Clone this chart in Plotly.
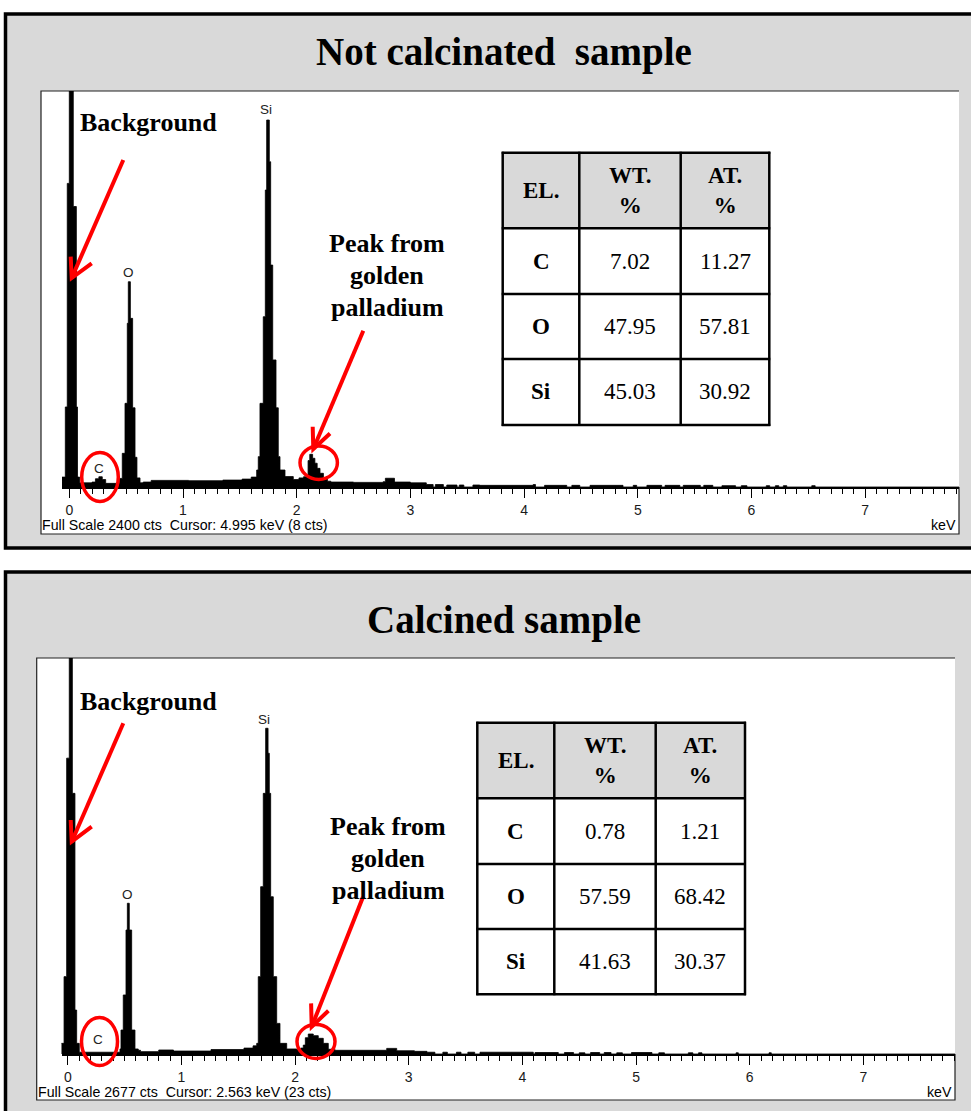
import plotly.graph_objects as go

# ---------------- data ----------------
# Spectrum 1 (not calcinated) : step breakpoints (keV) and counts
E1 = [-0.064, -0.035, -0.018, 0.000, 0.035, 0.062, 0.072, 0.090,
      0.200, 0.230, 0.260, 0.290, 0.320,
      0.440, 0.466, 0.490, 0.510, 0.519, 0.537, 0.557, 0.578, 0.595, 0.622,
      0.650, 0.720, 1.050, 1.350, 1.520, 1.600,
      1.648, 1.662, 1.677, 1.706, 1.724, 1.736, 1.759, 1.771, 1.789, 1.818, 1.838, 1.853, 1.897, 1.970,
      2.020, 2.060, 2.100, 2.115, 2.140, 2.160, 2.180, 2.205, 2.235, 2.270, 2.300,
      2.500, 2.760, 2.780, 2.860, 3.000,
      3.140, 3.200, 3.220, 3.290, 3.320, 3.410, 3.430, 3.470, 3.550, 3.610,
      4.080, 4.100, 4.180, 4.375, 4.420, 4.490, 4.580, 4.870, 4.960, 4.990,
      5.080, 5.210, 5.240, 5.370, 5.400, 5.550, 5.580, 5.660, 5.740, 5.860,
      5.910, 5.960, 6.130, 6.160, 6.210, 6.240, 6.280, 6.310, 6.530, 6.560,
      7.830]
C1 = [60, 485, 1840, 2400, 1700, 485, 60, 25,
      30, 50, 62, 45, 22,
      52, 204, 507, 992, 1244, 1022, 480, 180, 55, 25,
      30, 40, 38, 42, 48, 60,
      103, 184, 507, 1032, 1800, 2224, 1971, 1345, 770, 480, 184, 103, 63, 45,
      55, 62, 160, 198, 174, 144, 113, 83, 53, 35, 30,
      28, 32, 53, 30, 25,
      15, 0, 15, 0, 12, 0, 12, 0, 12, 10,
      15, 0, 10, 0, 10, 0, 10, 0, 10, 0,
      10, 0, 10, 0, 10, 0, 10, 0, 8, 0,
      8, 0, 8, 0, 8, 0, 8, 0, 8, 0,
      0]

# Spectrum 2 (calcined)
E2 = [-0.063, -0.033, -0.010, 0.013, 0.040, 0.063, 0.078, 0.101,
      0.459, 0.468, 0.488, 0.512, 0.524, 0.541, 0.562, 0.591, 0.620,
      0.640, 0.800, 0.930, 1.260, 1.550, 1.630,
      1.662, 1.676, 1.697, 1.720, 1.741, 1.762, 1.773, 1.785, 1.808, 1.838, 1.867, 1.926, 2.014,
      2.050, 2.072, 2.090, 2.116, 2.160, 2.204, 2.248, 2.292, 2.350,
      2.806, 2.894, 3.050,
      3.160, 3.230, 3.300, 3.340, 3.420, 3.460, 3.520, 3.580, 3.627,
      4.096, 4.111, 4.316, 4.370, 4.450, 4.500, 4.550, 4.600, 4.680, 4.720,
      4.780, 4.830, 4.880, 4.960, 5.140, 5.200, 5.250, 5.460, 5.500, 5.550,
      5.580, 5.880, 5.900, 6.170, 6.190,
      7.830]
C2 = [72, 523, 2000, 2677, 1762, 297, 72, 12,
      34, 162, 399, 838, 1019, 838, 162, 34, 25,
      16, 27, 20, 30, 40, 55,
      72, 523, 1131, 1762, 2202, 2033, 1762, 1063, 523, 207, 72, 34, 30,
      40, 60, 110, 135, 124, 106, 72, 32, 25,
      38, 22, 18,
      12, 0, 12, 0, 12, 0, 12, 0, 12,
      0, 10, 0, 10, 0, 8, 0, 10, 0, 10,
      0, 8, 0, 10, 0, 8, 0, 8, 0, 8,
      0, 8, 0, 8, 0,
      0]

FULL_SCALE = [2400, 2677]
CURSOR_TXT = ["Full Scale 2400 cts  Cursor: 4.995 keV (8 cts)",
              "Full Scale 2677 cts  Cursor: 2.563 keV (23 cts)"]
TITLES = ["Not calcinated\u00a0 sample", "Calcined sample"]
ELEMENTS = ["C", "O", "Si"]
WT = [[7.02, 47.95, 45.03], [0.78, 57.59, 41.63]]
AT = [[11.27, 57.81, 30.92], [1.21, 68.42, 30.37]]
HEADERS = ["EL.", "WT.<br>%", "AT.<br>%"]
TICK_VALS = [0, 1, 2, 3, 4, 5, 6, 7]

assert len(E1) == len(C1), (len(E1), len(C1))
assert len(E2) == len(C2), (len(E2), len(C2))

# ---------------- layout helpers ----------------
W, H = 971, 1111
def px(x): return x / W
def py(y): return 1 - y / H

SERIF = "Liberation Serif, Times New Roman, serif"
SANS = "Liberation Sans, Arial, sans-serif"
RED = "#FF0000"
GRAY = "#D9D9D9"

geo = [
    dict(panel=(5.5, 14, 990, 548), title_y=52, box=(41, 91, 959, 534), y0=487,
         x0=69.3, k=113.7, dom=(62, 959),
         el_lbl=[("Si", 265.5, 110), ("O", 128.7, 272.5), ("C", 98.5, 468)],
         bg=(148.8, 122), pk=(387.3, [243, 275, 307]),
         arr1=[(123.3, 160), (71.7, 278)], head1=[(91.7, 263.3), (71.7, 278), (70.7, 256.7)],
         arr2=[(363.3, 330.7), (313.3, 449)], head2=[(330, 433.5), (313.3, 449), (312.7, 426.7)],
         ell=[(100, 477, 18.3, 24.5), (318.7, 462.7, 18.7, 16.7)],
         table=(502.7, 579.3, 680.7, 769.3, 152.7, 228.3, 294, 359, 425),
         foot_y=525),
    dict(panel=(5.5, 572, 990, 1130), title_y=620, box=(36.7, 658, 955, 1100), y0=1054,
         x0=67.8, k=113.65, dom=(61.5, 955),
         el_lbl=[("Si", 264, 719.5), ("O", 127.3, 894.5), ("C", 97.5, 1039.5)],
         bg=(148.8, 701), pk=(388, [826, 858, 890]),
         arr1=[(123.3, 723.3), (71.7, 841.7)], head1=[(91.7, 826.7), (71.7, 841.7), (70.7, 820)],
         arr2=[(363, 897), (311.7, 1026.7)], head2=[(328.4, 1010.7), (311.7, 1026.7), (311.1, 1003.4)],
         ell=[(99.5, 1041.5, 18, 24), (316, 1041.5, 19, 17)],
         table=(477.3, 554.3, 655.7, 745, 722.7, 798.3, 864, 929, 994.3),
         foot_y=1091.5),
]

fig = go.Figure()
shapes, annos = [], []

def path(points):
    return "M " + " L ".join(f"{px(x):.6f},{py(y):.6f}" for x, y in points)

def text(t, x, y, size, family, color="black", xa="center", ya="middle"):
    annos.append(dict(text=t, x=px(x), y=py(y), xref="paper", yref="paper",
                      showarrow=False, xanchor=xa, yanchor=ya,
                      font=dict(family=family, size=size, color=color)))

spectra = [(E1, C1), (E2, C2)]
for i, g in enumerate(geo):
    E, C = spectra[i]
    xa = "x" if i == 0 else "x2"
    ya = "y" if i == 0 else "y2"
    fig.add_trace(go.Scatter(x=E, y=C, xaxis=xa, yaxis=ya, mode="lines",
                             line=dict(color="black", width=0.8, shape="hv"),
                             fill="tozeroy", fillcolor="black",
                             hoverinfo="skip", showlegend=False))
    # panel background
    x0, y0, x1, y1 = g["panel"]
    shapes.append(dict(type="rect", xref="paper", yref="paper", layer="below",
                       x0=px(x0), x1=px(x1), y0=py(y1), y1=py(y0),
                       fillcolor=GRAY, line=dict(color="black", width=3.5)))
    bx0, by0, bx1, by1 = g["box"]
    shapes.append(dict(type="rect", xref="paper", yref="paper", layer="below",
                       x0=px(bx0), x1=px(bx1), y0=py(by1), y1=py(by0),
                       fillcolor="white", line=dict(width=0)))
    shapes.append(dict(type="path", xref="paper", yref="paper", layer="below",
                       path=path([(bx1, g["y0"]), (bx1, by1), (bx0, by1), (bx0, by0), (bx1, by0)]),
                       line=dict(color="#222", width=1.2)))
    # axes
    d0, d1 = g["dom"]
    xr = [(d0 - g["x0"]) / g["k"], (d1 - g["x0"]) / g["k"]]
    axx = dict(domain=[px(d0), px(d1)], range=xr, anchor=ya, showline=True,
               linecolor="black", linewidth=1.5, ticks="outside", ticklen=9,
               tickwidth=1.3, tickcolor="black", tickmode="array", tickvals=TICK_VALS,
               ticktext=[str(v) for v in TICK_VALS],
               tickfont=dict(family=SANS, size=14, color="#1a1a1a"),
               minor=dict(dtick=0.1, tick0=0, ticks="outside", ticklen=5, tickwidth=1,
                          tickcolor="black", showgrid=False),
               showgrid=False, zeroline=False, fixedrange=True)
    axy = dict(domain=[py(g["y0"]), py(by0)], range=[0, FULL_SCALE[i]], anchor=xa,
               visible=False, fixedrange=True)
    if i == 0:
        fig.update_layout(xaxis=axx, yaxis=axy)
    else:
        fig.update_layout(xaxis2=axx, yaxis2=axy)
    # title
    text(f"<b>{TITLES[i]}</b>", 504, g["title_y"], 39, SERIF)
    # element labels
    for lab, lx, ly in g["el_lbl"]:
        text(lab, lx, ly, 13.5, SANS, "#222")
    # footer texts
    text(CURSOR_TXT[i], bx0 - 1, g["foot_y"], 14.2, SANS, "black", xa="left")
    text("keV", bx1 - 1, g["foot_y"], 14.2, SANS, "black", xa="right")
    # red annotations
    text("<b>Background</b>", g["bg"][0], g["bg"][1], 26, SERIF)
    for t, ly in zip(["Peak from", "golden", "palladium"], g["pk"][1]):
        text(f"<b>{t}</b>", g["pk"][0], ly, 26, SERIF)
    for key in ["arr1", "head1", "arr2", "head2"]:
        shapes.append(dict(type="path", xref="paper", yref="paper", layer="above",
                           path=path(g[key]), line=dict(color=RED, width=4)))
    for cx, cy, rx, ry in g["ell"]:
        shapes.append(dict(type="circle", xref="paper", yref="paper", layer="above",
                           x0=px(cx - rx), x1=px(cx + rx), y0=py(cy + ry), y1=py(cy - ry),
                           line=dict(color=RED, width=3.5)))
    # composition table
    tx0, tx1, tx2, tx3, ty0, ty1, ty2, ty3, ty4 = g["table"]
    shapes.append(dict(type="rect", xref="paper", yref="paper", layer="above",
                       x0=px(tx0), x1=px(tx3), y0=py(ty4), y1=py(ty0),
                       fillcolor="white", line=dict(width=0)))
    shapes.append(dict(type="rect", xref="paper", yref="paper", layer="above",
                       x0=px(tx0), x1=px(tx3), y0=py(ty1), y1=py(ty0),
                       fillcolor=GRAY, line=dict(width=0)))
    for xv in [tx0, tx1, tx2, tx3]:
        shapes.append(dict(type="line", xref="paper", yref="paper", layer="above",
                           x0=px(xv), x1=px(xv), y0=py(ty4 + 1), y1=py(ty0 - 1),
                           line=dict(color="black", width=2.5)))
    for yv in [ty0, ty1, ty2, ty3, ty4]:
        shapes.append(dict(type="line", xref="paper", yref="paper", layer="above",
                           x0=px(tx0 - 1), x1=px(tx3 + 1), y0=py(yv), y1=py(yv),
                           line=dict(color="black", width=2.5)))
    cxs = [(tx0 + tx1) / 2, (tx1 + tx2) / 2, (tx2 + tx3) / 2]
    rys = [(ty0 + ty1) / 2, (ty1 + ty2) / 2, (ty2 + ty3) / 2, (ty3 + ty4) / 2]
    for hdr, cx in zip(HEADERS, cxs):
        text(f"<b>{hdr}</b>", cx, rys[0], 23, SERIF)
    for r, el in enumerate(ELEMENTS):
        text(f"<b>{el}</b>", cxs[0], rys[r + 1], 23, SERIF)
        text(f"{WT[i][r]:.2f}", cxs[1], rys[r + 1], 23, SERIF)
        text(f"{AT[i][r]:.2f}", cxs[2], rys[r + 1], 23, SERIF)

fig.update_layout(width=W, height=H, margin=dict(l=0, r=0, t=0, b=0),
                  paper_bgcolor="white", plot_bgcolor="rgba(0,0,0,0)",
                  shapes=shapes, annotations=annos, showlegend=False)
fig.write_html("out.html")
